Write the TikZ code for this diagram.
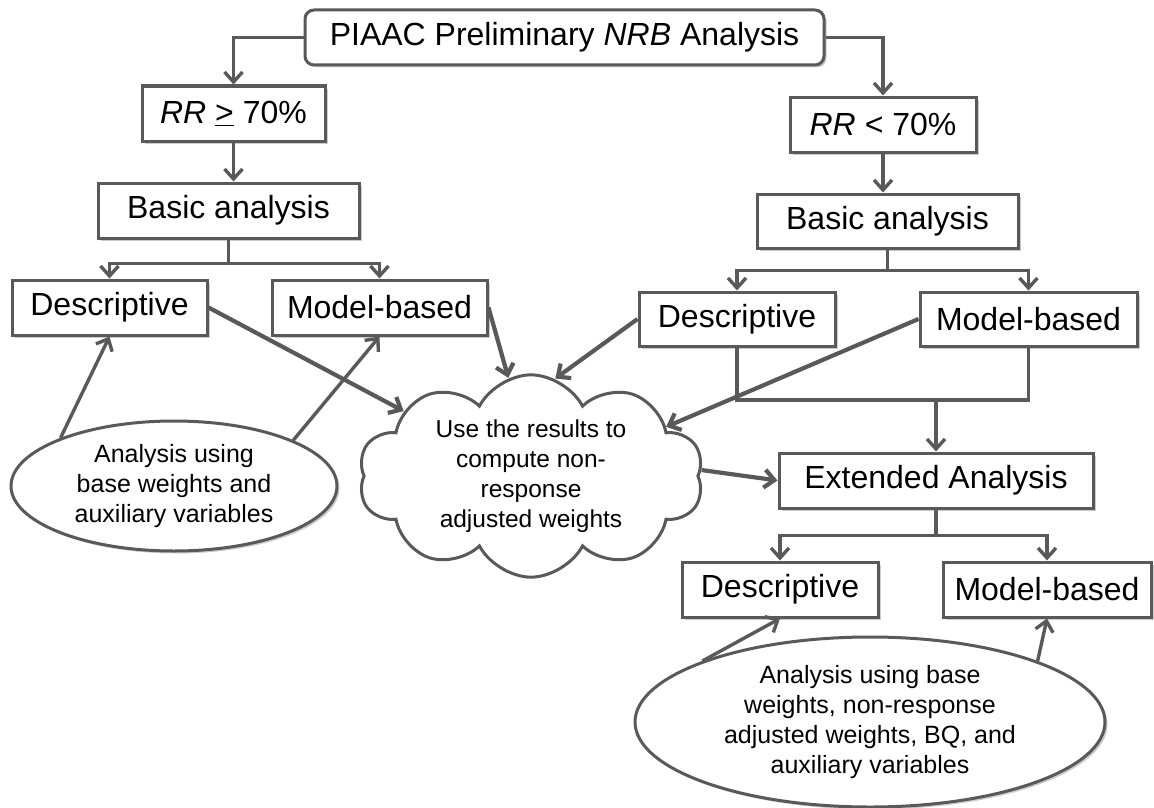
\documentclass[tikz,border=0pt]{standalone}
\usepackage{fontspec}
\setmainfont{Liberation Sans}
\usetikzlibrary{arrows.meta,shapes.geometric,shapes.symbols,shadows}
\definecolor{ln}{RGB}{89,89,89}
\begin{document}
\begin{tikzpicture}[x=1pt,y=-1pt,
  shad/.style={drop shadow={shadow xshift=2.5pt,shadow yshift=-2.5pt,opacity=0.2,fill=black}},
  box/.style={draw=ln,line width=3pt,fill=white,inner sep=0pt,shad,
    font=\fontsize{32}{38}\selectfont},
  oval/.style={ellipse,draw=ln,line width=3pt,fill=white,inner sep=0pt,shad,
    align=center,font=\fontsize{25}{30}\selectfont},
  puff/.style={cloud,cloud puffs=10,cloud puff arc=125,cloud ignores aspect,
    draw=ln,line width=3pt,fill=white,inner sep=0pt,align=center,
    font=\fontsize{24.5}{30}\selectfont},
  arr/.style={draw=ln,line width=3.4pt,-{Straight Barb[length=10pt,width=18pt]}},
  arrb/.style={arr,line width=4.2pt},
  ln/.style={draw=ln,line width=3.4pt}]
\useasboundingbox (0,0) rectangle (1154,808);
% nodes
\node[box,rounded corners=9pt,minimum width=519pt,minimum height=55pt] (top) at (564.5,37.5) {PIAAC Preliminary \textit{NRB} Analysis};
\node[box,minimum width=183pt,minimum height=55pt] (rr1) at (233.5,113.5) {\textit{RR} \underline{>} 70\%};
\node[box,minimum width=261pt,minimum height=55pt] (basic1) at (228.5,210.5) {Basic analysis};
\node[box,minimum width=195pt,minimum height=55pt] (desc1) at (109.5,307.5) {Descriptive};
\node[box,minimum width=215pt,minimum height=55pt] (model1) at (379.5,307.5) {Model-based};
\node[box,minimum width=186pt,minimum height=55pt] (rr2) at (883,124.5) {\textit{RR} < 70\%};
\node[box,minimum width=261pt,minimum height=54pt] (basic2) at (887.5,221) {Basic analysis};
\node[box,minimum width=196pt,minimum height=54pt] (desc2) at (737,319) {Descriptive};
\node[box,minimum width=217pt,minimum height=54pt] (model2) at (1028.5,319) {Model-based};
\node[box,minimum width=314pt,minimum height=55pt] (ext) at (936,480.5) {Extended Analysis};
\node[box,minimum width=196pt,minimum height=55pt] (desc3) at (780,589.5) {Descriptive};
\node[box,minimum width=208pt,minimum height=55pt] (model3) at (1047,589.5) {Model-based};
\node[oval,minimum width=326pt,minimum height=130pt] (ell1) at (174,486) {Analysis using\\base weights and\\auxiliary variables};
\node[oval,minimum width=470pt,minimum height=170pt] (ell2) at (870,722) {Analysis using base\\weights, non-response\\adjusted weights, BQ, and\\auxiliary variables};
\node[puff,minimum width=345pt,minimum height=197pt] (cl) at (531,476) {Use the results to\\compute non-\\response\\adjusted weights};
% connectors
\draw[arr] (top.west) -| (rr1.north);
\draw[arr] (top.east) -| (rr2.north);
\draw[arr] (rr1.south) -- (rr1.south |- basic1.north);
\draw[arr] (rr2.south) -- (rr2.south |- basic2.north);
\draw[arr] (basic1.south) -- ++(0,24) -| (desc1.north);
\draw[arr] (basic1.south) -- ++(0,24) -| (model1.north);
\draw[arr] (basic2.south) -- ++(0,21) -| (desc2.north);
\draw[arr] (basic2.south) -- ++(0,21) -| (model2.north);
\coordinate (j2) at (936,400);
\draw[ln] (desc2.south) |- (j2) -| (model2.south);
\draw[arr] (j2) -- (ext.north);
\draw[arr] (ext.south) -- ++(0,26) -| (desc3.north);
\draw[arr] (ext.south) -- ++(0,26) -| (model3.north);
\draw[arrb] (desc1.east) -- (cl.153);
\draw[arrb] (model1.east) -- (cl.103);
\draw[arrb] (desc2.west) -- (cl.76);
\draw[arrb] (model2.west) -- (cl.20);
\draw[arrb] (cl.2) -- (ext.west);
\draw[arr] (ell1.157) -- (desc1.south);
\draw[arr] (ell1.21) -- (model1.south);
\draw[arr] (ell2.160) -- (desc3.south);
\draw[arr] (ell2.20) -- (model3.south);
\end{tikzpicture}
\end{document}
